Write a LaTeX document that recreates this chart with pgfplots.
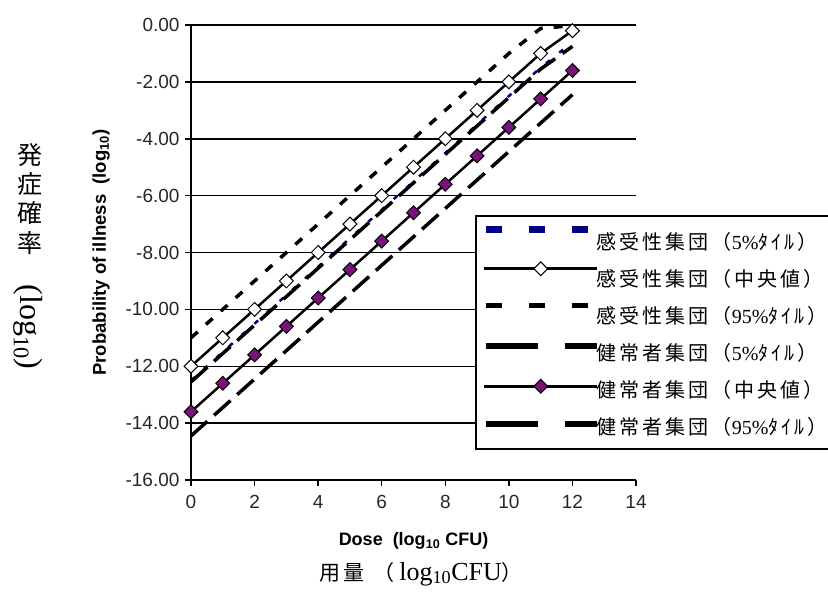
\documentclass[border=0pt]{standalone}
\usepackage{fontspec}
\setmainfont{Liberation Serif}
\newfontfamily\arial{Liberation Sans}
\newfontfamily\jp[LetterSpace=15]{Noto Sans CJK JP}
\newfontfamily\jpv{Noto Sans CJK JP}
\usepackage{pgfplots}
\usepackage{pgfplotstable}
\pgfplotsset{compat=1.18}

\definecolor{navyser}{RGB}{0,0,128}
\definecolor{purpmk}{RGB}{120,20,120}

% dose (log10 CFU) vs probability of illness (log10)
\pgfplotstableread{
x   s05     smed   s95    h05     hmed   h95
0   -12.5   -12    -11    -14.45  -13.6  -12.55
1   -11.5   -11    -10    -13.45  -12.6  -11.55
2   -10.5   -10    -9     -12.45  -11.6  -10.55
3   -9.5    -9     -8     -11.45  -10.6  -9.55
4   -8.5    -8     -7     -10.45  -9.6   -8.55
5   -7.5    -7     -6     -9.45   -8.6   -7.55
6   -6.5    -6     -5     -8.45   -7.6   -6.55
7   -5.5    -5     -4     -7.45   -6.6   -5.55
8   -4.5    -4     -3     -6.45   -5.6   -4.55
9   -3.5    -3     -2     -5.45   -4.6   -3.55
10  -2.5    -2     -1     -4.45   -3.6   -2.55
11  -1.5    -1     -0.12  -3.45   -2.6   -1.55
12  -0.6    -0.2   -0.02  -2.45   -1.6   -0.75
}\doseresp

% legend cell: text centre sits at y=0 of the image
\tikzset{legbox/.style={draw=none}}
\newcommand\legcell{\path[legbox] (0bp,-10.5bp) rectangle (113bp,10.5bp);}

\begin{document}
\begin{tikzpicture}
\useasboundingbox (0,0) rectangle (828bp,-596bp);
\begin{axis}[
  at={(191bp,-480bp)}, anchor=south west,
  scale only axis, width=445bp, height=455bp,
  xmin=0, xmax=14, ymin=-16, ymax=0,
  xtick={0,2,...,14}, ytick={-16,-14,...,0},
  axis x line*=bottom, axis y line*=left,
  axis line style={line width=2bp, -},
  ymajorgrids, major grid style={black, line width=1.5bp},
  tick style={black, line width=1.5bp}, major tick length=6bp, tick align=outside,
  ticklabel style={font=\arial\fontsize{19bp}{22bp}\selectfont, text=black!85,
    /pgf/number format/assume math mode=true},
  yticklabel style={xshift=-2bp, /pgf/number format/.cd, fixed, fixed zerofill, precision=2},
  xticklabel style={yshift=-6bp},
  xlabel={\bfseries Dose\ \ (log\textsubscript{10} CFU)},
  ylabel={\bfseries Probability of illness\ \ (log\textsubscript{10})},
  xlabel style={font=\arial\fontsize{18bp}{21bp}\selectfont, at={(axis description cs:0.5,-0.134)}, anchor=center},
  ylabel style={font=\arial\fontsize{18.5bp}{21bp}\selectfont, at={(axis description cs:-0.202,0.5)}, anchor=center},
  clip=false,
  legend cell align=left,
  legend style={at={(axis description cs:0.6382,0.5824)}, anchor=north west,
    draw=black, line width=1.5bp, fill=white,
    font=\fontsize{20bp}{24bp}\selectfont,
    inner xsep=8bp, inner ysep=13.5bp, row sep=16bp,
    nodes={inner sep=0pt, text height=20bp, text depth=1bp}},
]
\addplot[navyser, line width=2.5bp, dash pattern=on 5bp off 12bp,
  legend image code/.code={\legcell
    \draw[overlay, navyser, solid, line width=7bp, dash pattern=on 16bp off 27bp] (2bp,10bp) -- (104bp,10bp);}]
  table[x=x, y=s05] {\doseresp};
\addlegendentry{{\jp 感受性集団（}5\%{\jp ﾀｲﾙ）}}

\addplot[black, line width=2.5bp, solid, mark=square*, mark size=4.9bp,
  mark options={rotate=45, fill=white, solid, line width=1bp},
  legend image code/.code={\legcell
    \draw[overlay, black, solid, line width=3bp] (0bp,8bp) -- (113bp,8bp);
    \draw[overlay, black, solid, line width=1bp, fill=white] plot[mark=square*, mark size=4.9bp, mark options={rotate=45}] coordinates {(57bp,8bp)};}]
  table[x=x, y=smed] {\doseresp};
\addlegendentry{{\jp 感受性集団（中央値）}}

\addplot[black, line width=3.5bp, dash pattern=on 9bp off 11bp,
  legend image code/.code={\legcell
    \draw[overlay, black, solid, line width=5bp, dash pattern=on 16bp off 27bp] (2bp,8.5bp) -- (104bp,8.5bp);}]
  table[x=x, y=s95] {\doseresp};
\addlegendentry{{\jp 感受性集団（}95\%{\jp ﾀｲﾙ）}}

\addplot[black, line width=3.5bp, dash pattern=on 22bp off 9bp,
  legend image code/.code={\legcell
    \draw[overlay, black, solid, line width=6bp, dash pattern=on 52bp off 27bp] (2bp,5bp) -- (113bp,5bp);}]
  table[x=x, y=h05] {\doseresp};
\addlegendentry{{\jp 健常者集団（}5\%{\jp ﾀｲﾙ）}}

\addplot[black, line width=2.5bp, solid, mark=square*, mark size=4.9bp,
  mark options={rotate=45, fill=purpmk, draw=black, solid, line width=1bp},
  legend image code/.code={\legcell
    \draw[overlay, black, solid, line width=3bp] (0bp,1.5bp) -- (113bp,1.5bp);
    \draw[overlay, black, solid, line width=1bp, fill=purpmk] plot[mark=square*, mark size=4.9bp, mark options={rotate=45}] coordinates {(57bp,1.5bp)};}]
  table[x=x, y=hmed] {\doseresp};
\addlegendentry{{\jp 健常者集団（中央値）}}

\addplot[black, line width=3.5bp, dash pattern=on 22bp off 9bp,
  legend image code/.code={\legcell
    \draw[overlay, black, solid, line width=6bp, dash pattern=on 52bp off 27bp] (2bp,0.5bp) -- (113bp,0.5bp);}]
  table[x=x, y=h95] {\doseresp};
\addlegendentry{{\jp 健常者集団（}95\%{\jp ﾀｲﾙ）}}
\end{axis}

% Japanese axis titles
\begin{scope}[every node/.style={font=\jpv\fontsize{25bp}{28bp}\selectfont, inner sep=0pt}]
\node at (30bp,-155bp) {発};
\node at (30bp,-184bp) {症};
\node at (30bp,-213bp) {確};
\node at (30bp,-243bp) {率};
\end{scope}
\node[rotate=-90, inner sep=0pt, font=\rmfamily\fontsize{32bp}{36bp}\selectfont] at (28bp,-327bp) {(log\textsubscript{10})};
\node[inner sep=0pt, font=\fontsize{26bp}{28bp}\selectfont] at (421bp,-574bp)
  {{\jp\fontsize{21bp}{24bp}\selectfont 用量\hspace{9bp}（}\hspace{5bp}log\textsubscript{10}CFU{\jp\fontsize{21bp}{24bp}\selectfont ）}};
\end{tikzpicture}
\end{document}
